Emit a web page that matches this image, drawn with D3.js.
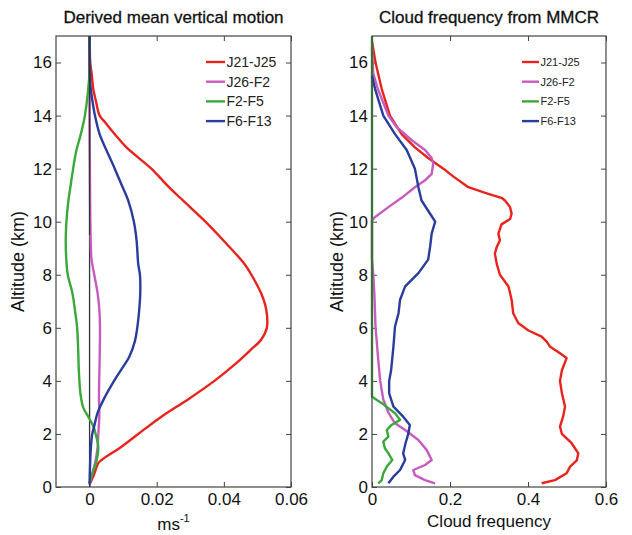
<!DOCTYPE html>
<html>
<head>
<meta charset="utf-8">
<script src="https://cdn.jsdelivr.net/npm/d3@7"></script>
<style>
  body { margin: 0; background: #fff; }
  svg { font-family: "Liberation Sans", Arial, sans-serif; }
</style>
</head>
<body>
<svg id="chart" width="632" height="535"></svg>
<script>
// legend labels and colours
const periods = ["J21-J25", "J26-F2", "F2-F5", "F6-F13"];
const colors = ["#e8231d", "#c65cbf", "#3aa83a", "#2a3c9c"];

// tick values
const altTicks = [0, 2, 4, 6, 8, 10, 12, 14, 16];
const motionTicks = [0, 0.02, 0.04, 0.06];
const freqTicks = [0, 0.2, 0.4, 0.6];

// Derived mean vertical motion, [altitude km, m/s]
const motionJ21 = [[0.14,0.0002],[0.5,0.0014],[0.9,0.0026],[1.02,0.0036],[1.52,0.0095],[2,0.0145],[2.65,0.0214],[3.3,0.0293],[4,0.0372],[4.67,0.0437],[5.17,0.048],[5.55,0.0511],[6,0.0528],[6.7,0.0526],[7.3,0.0511],[8,0.0482],[8.4,0.0462],[9.3,0.0398],[10,0.0345],[10.8,0.0278],[11.4,0.0229],[12,0.0184],[12.8,0.011],[13.3,0.0075],[13.75,0.0046],[14,0.003],[14.6,0.0018],[15,0.0011],[15.6,0.0006],[16,0.0002],[17,0]];
const motionJ26 = [[0.14,0],[0.5,0.0008],[1,0.0018],[1.5,0.0024],[2,0.0026],[2.65,0.0029],[3.5,0.0028],[4.8,0.003],[6,0.0031],[6.7,0.0029],[7.3,0.0024],[8,0.0014],[8.57,0.0006],[9.5,0.0003],[12,0.0001],[14,0],[17,0]];
const motionF2 = [[0.14,0],[0.5,0.0008],[1,0.0021],[1.5,0.0026],[2,0.0018],[2.3,0.0011],[2.65,-0.0004],[3,-0.0019],[3.5,-0.0027],[4.4,-0.0032],[5.2,-0.0034],[6,-0.0037],[6.7,-0.0044],[7.3,-0.0051],[8,-0.0065],[8.5,-0.0069],[9.3,-0.0071],[10,-0.0069],[10.8,-0.0063],[11.4,-0.0056],[12,-0.0049],[12.7,-0.0039],[13.3,-0.0026],[14,-0.0014],[15,-0.0004],[15.7,0],[17,0]];
const motionF6 = [[0.1,0],[1,0.0002],[1.5,0.0004],[2,0.0008],[2.3,0.0014],[2.8,0.0024],[3.4,0.0046],[4,0.0073],[4.4,0.0093],[4.9,0.0118],[5.5,0.0135],[6,0.0142],[6.7,0.0148],[7.3,0.0151],[8,0.015],[8.4,0.0145],[9.3,0.014],[10,0.0132],[10.8,0.0115],[11.4,0.0095],[12,0.0075],[12.7,0.005],[13.3,0.003],[14,0.0016],[14.6,0.0008],[15.2,0.0002],[16.5,0],[17,0]];

// Cloud frequency from MMCR, [altitude km, frequency]
const cloudJ21 = [[0.14,0.435],[0.26,0.469],[0.52,0.499],[0.77,0.508],[1,0.525],[1.27,0.529],[1.65,0.512],[2,0.487],[2.28,0.482],[2.65,0.49],[3.03,0.495],[3.53,0.487],[4,0.482],[4.4,0.487],[4.86,0.499],[5.04,0.482],[5.3,0.456],[5.48,0.448],[5.67,0.435],[5.9,0.401],[6.18,0.375],[6.55,0.362],[7.06,0.358],[7.56,0.35],[8,0.328],[8.4,0.32],[8.8,0.315],[9.05,0.32],[9.3,0.328],[9.55,0.324],[9.9,0.332],[10.1,0.354],[10.3,0.358],[10.55,0.354],[10.8,0.341],[10.9,0.332],[11.05,0.298],[11.3,0.247],[11.7,0.209],[12,0.183],[12.4,0.144],[12.8,0.11],[13.3,0.076],[14,0.046],[15,0.025],[16,0.009],[16.8,0]];
const cloudJ26 = [[0.14,0.162],[0.26,0.136],[0.45,0.11],[0.64,0.106],[0.83,0.136],[1.02,0.153],[1.4,0.14],[1.77,0.119],[2.15,0.085],[2.4,0.059],[2.8,0.042],[3.3,0.029],[4,0.021],[4.8,0.016],[6.05,0.009],[7.3,0.006],[8.06,0.003],[8.6,0],[10.05,0],[10.18,0.008],[10.55,0.042],[10.9,0.076],[11.3,0.11],[11.56,0.136],[11.8,0.153],[12.2,0.157],[12.4,0.153],[12.7,0.136],[13.07,0.102],[13.57,0.063],[14,0.042],[15,0.015],[15.6,0.003],[16.5,0]];
const cloudF2 = [[0.14,0.016],[0.26,0.025],[0.52,0.029],[0.77,0.038],[1.02,0.052],[1.27,0.042],[1.46,0.033],[1.71,0.029],[1.9,0.042],[2.15,0.038],[2.34,0.05],[2.53,0.072],[2.78,0.059],[3.16,0.025],[3.4,0],[17,0]];
const cloudF6 = [[0.14,0.042],[0.39,0.055],[0.64,0.072],[1.02,0.085],[1.27,0.08],[1.65,0.086],[2,0.093],[2.34,0.097],[2.65,0.08],[3.03,0.055],[3.53,0.044],[4,0.044],[4.4,0.049],[5.3,0.055],[6.05,0.059],[6.55,0.068],[7.06,0.072],[7.56,0.085],[8.06,0.119],[8.57,0.144],[9.05,0.149],[9.55,0.153],[10,0.162],[10.3,0.149],[10.8,0.127],[11.3,0.119],[12,0.11],[12.7,0.089],[13.3,0.059],[14,0.029],[15,0.008],[15.5,0]];

const svg = d3.select("#chart");

// shared altitude scale
const y = d3.scaleLinear().domain([0, 17]).range([487, 36]);

function drawPanel(opts) {
    const x = opts.x;
    const [x0, x1] = x.range();
    const g = svg.append("g");

    // inward ticks on all four sides
    const left = g.append("g")
        .attr("transform", `translate(${x0},0)`)
        .call(d3.axisLeft(y).tickValues(altTicks).tickSizeInner(-5).tickSizeOuter(0).tickPadding(4));
    g.append("g")
        .attr("transform", `translate(${x1},0)`)
        .call(d3.axisRight(y).tickValues(altTicks).tickSizeInner(-5).tickSizeOuter(0).tickFormat(""));
    const bottom = g.append("g")
        .attr("transform", `translate(0,${y(0)})`)
        .call(d3.axisBottom(x).tickValues(opts.ticks).tickSizeInner(-5).tickSizeOuter(0).tickPadding(6)
            .tickFormat(d => d === 0 ? "0" : opts.fmt(d)));
    g.append("g")
        .attr("transform", `translate(0,${y(17)})`)
        .call(d3.axisTop(x).tickValues(opts.ticks).tickSizeInner(-5).tickSizeOuter(0).tickFormat(""));

    g.selectAll(".domain").remove();
    g.selectAll(".tick line").attr("stroke", "#444");
    left.selectAll("text").attr("font-size", 17).attr("fill", "#111");
    bottom.selectAll("text").attr("font-size", 17).attr("fill", "#111");

    // zero line (left panel only)
    if (opts.zeroLine) {
        g.append("line")
            .attr("x1", x(0)).attr("x2", x(0))
            .attr("y1", y(0)).attr("y2", y(17))
            .attr("stroke", "#333").attr("stroke-width", 1.3);
    }

    // profiles
    const line = d3.line()
        .x(d => x(d[1]))
        .y(d => y(d[0]))
        .curve(opts.curve);
    opts.series.forEach((s, i) => {
        g.append("path")
            .datum(s)
            .attr("d", line)
            .attr("fill", "none")
            .attr("stroke", colors[i])
            .attr("stroke-width", 2.4)
            .attr("stroke-linejoin", "round");
    });

    if (opts.zeroLine) {
        g.append("line")
            .attr("x1", x(0)).attr("x2", x(0))
            .attr("y1", y(17)).attr("y2", y(9.5))
            .attr("stroke", "#333").attr("stroke-width", 1.3);
    }

    // frame
    g.append("rect")
        .attr("x", x0).attr("y", y(17))
        .attr("width", x1 - x0).attr("height", y(0) - y(17))
        .attr("fill", "none").attr("stroke", "#444").attr("stroke-width", 1.2);

    // title
    g.append("text")
        .attr("x", (x0 + x1) / 2).attr("y", 23)
        .attr("text-anchor", "middle")
        .attr("font-size", 17).attr("fill", "#111")
        .attr("stroke", "#111").attr("stroke-width", 0.3)
        .text(opts.title);

    // y label
    g.append("text")
        .attr("transform", `translate(${opts.yLabelX},${(y(0) + y(17)) / 2}) rotate(-90)`)
        .attr("text-anchor", "middle")
        .attr("dy", "0.35em")
        .attr("font-size", 18).attr("fill", "#111")
        .text("Altitude (km)");

    // legend
    const lg = opts.legend;
    periods.forEach((p, i) => {
        const ly = 62 + i * 19.7;
        g.append("line")
            .attr("x1", lg.x).attr("x2", lg.x + lg.len)
            .attr("y1", ly).attr("y2", ly)
            .attr("stroke", colors[i]).attr("stroke-width", 2.4);
        g.append("text")
            .attr("x", lg.x + lg.len + 1.5).attr("y", ly)
            .attr("dy", "0.35em")
            .attr("font-size", lg.size).attr("fill", "#222")
            .text(p);
    });
    return g;
}

// left: derived mean vertical motion
const xL = d3.scaleLinear().domain([-0.01, 0.06]).range([56, 291]);
const gL = drawPanel({
    x: xL,
    ticks: motionTicks,
    fmt: d3.format(".2f"),
    series: [motionJ21, motionJ26, motionF2, motionF6],
    curve: d3.curveCatmullRom,
    zeroLine: true,
    title: "Derived mean vertical motion",
    yLabelX: 18,
    legend: { x: 206, len: 19, size: 14 }
});
const unit = gL.append("text")
    .attr("x", (56 + 291) / 2).attr("y", 530)
    .attr("text-anchor", "middle")
    .attr("font-size", 17).attr("fill", "#111");
unit.append("tspan").text("ms");
unit.append("tspan").attr("font-size", 11).attr("dy", -8).text("-1");

// right: cloud frequency
const xR = d3.scaleLinear().domain([0, 0.6]).range([372, 606]);
const gR = drawPanel({
    x: xR,
    ticks: freqTicks,
    fmt: d3.format(".1f"),
    series: [cloudJ21, cloudJ26, cloudF2, cloudF6],
    curve: d3.curveLinear,
    zeroLine: false,
    title: "Cloud frequency from MMCR",
    yLabelX: 337,
    legend: { x: 522, len: 17, size: 11 }
});
gR.append("text")
    .attr("x", (372 + 606) / 2).attr("y", 527)
    .attr("text-anchor", "middle")
    .attr("font-size", 17).attr("fill", "#111")
    .text("Cloud frequency");
</script>
</body>
</html>
